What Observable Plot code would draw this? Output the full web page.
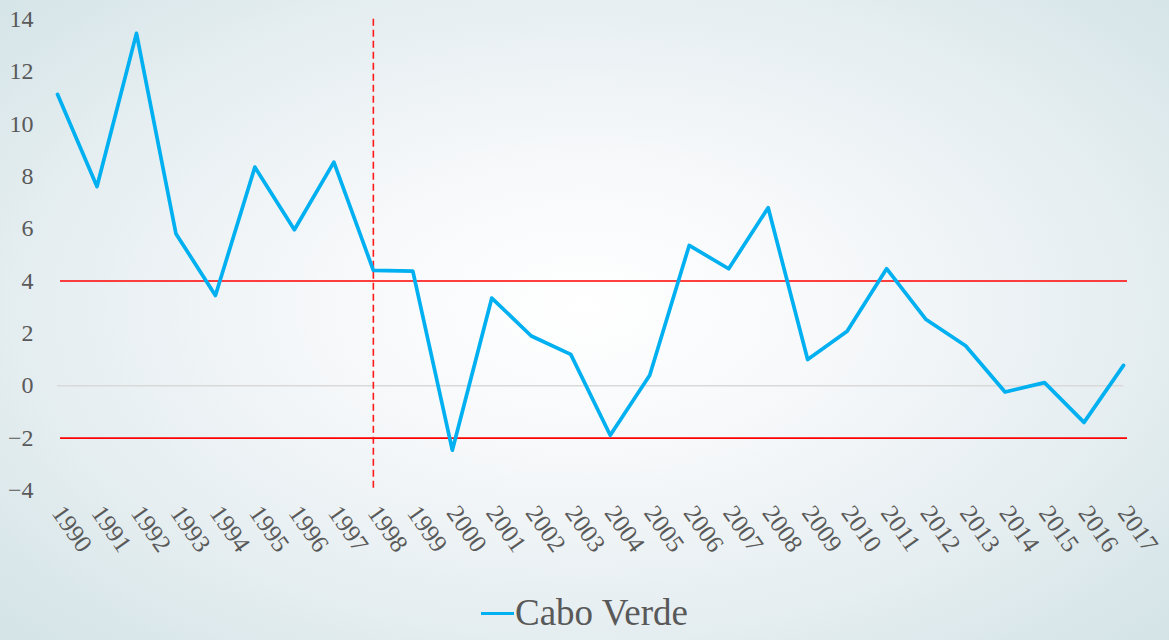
<!DOCTYPE html>
<html>
<head>
<meta charset="utf-8">
<script src="https://cdn.jsdelivr.net/npm/d3@7"></script>
<script src="https://cdn.jsdelivr.net/npm/@observablehq/plot@0.6"></script>
<style>
  html, body { margin: 0; padding: 0; }
  body {
    width: 1169px; height: 640px; overflow: hidden;
    background: radial-gradient(ellipse 75% 80% at 50% 48%, #ffffff 0%, #f6f8fa 30%, #e4edf0 65%, #cfe1e4 100%);
    font-family: "Liberation Serif", serif;
  }
  #chart svg { display: block; background: transparent; }
  #chart svg text { font-family: "Liberation Serif", serif !important; }
  #legend {
    height: 55px; display: flex; align-items: center; justify-content: center;
    color: #595959; font-size: 37px; font-family: "Liberation Serif", serif;
    padding-top: 10px;
  }
  #legend .sw { display: inline-block; width: 33px; height: 3.5px; background: #00b0f0; margin-right: 1px; position: relative; top: 1px; }
</style>
</head>
<body>
<div id="chart"></div>
<div id="legend"><span class="sw"></span><span id="legend-label"></span></div>
<script>
const years = [1990, 1991, 1992, 1993, 1994, 1995, 1996, 1997, 1998, 1999,
               2000, 2001, 2002, 2003, 2004, 2005, 2006, 2007, 2008, 2009,
               2010, 2011, 2012, 2013, 2014, 2015, 2016, 2017];
const values = [11.13, 7.61, 13.46, 5.81, 3.45, 8.35, 5.96, 8.54, 4.41, 4.38,
                -2.46, 3.35, 1.90, 1.20, -1.89, 0.40, 5.36, 4.47, 6.80, 1.00,
                2.08, 4.47, 2.53, 1.53, -0.24, 0.12, -1.40, 0.78];
const seriesName = "Cabo Verde";
const bandLimits = [4, -2];
const markerYear = [1998];
const yTicks = [-4, -2, 0, 2, 4, 6, 8, 10, 12, 14];

const data = years.map((y, i) => ({year: y, value: values[i]}));

const plot = Plot.plot({
  width: 1169,
  height: 575,
  marginTop: 18.7,
  marginBottom: 85,
  marginLeft: 57,
  marginRight: 46,
  style: {fontSize: "24px", color: "#595959", background: "transparent", overflow: "visible"},
  x: {domain: [1990, 2017]},
  y: {domain: [-4, 14]},
  marks: [
    Plot.ruleY([0], {stroke: "#d9d9d9", strokeWidth: 1.5}),
    Plot.ruleY(bandLimits, {stroke: "#ff0000", strokeWidth: 1.6, insetLeft: 3, insetRight: -4}),
    Plot.ruleX(markerYear, {stroke: "#ff1a1a", strokeWidth: 1.6, strokeDasharray: "7,4"}),
    Plot.line(data, {x: "year", y: "value", stroke: "#00b0f0", strokeWidth: 3.7, strokeLinejoin: "round", strokeLinecap: "round"}),
    Plot.axisY({ticks: yTicks, tickSize: 0, tickPadding: 24, label: null, fontSize: 24}),
    Plot.axisX({ticks: years, tickFormat: d => String(d), tickSize: 0, tickPadding: 18, tickRotate: 55, label: null, fontSize: 25})
  ]
});
document.getElementById("chart").appendChild(plot);
document.getElementById("legend-label").textContent = seriesName;
</script>
</body>
</html>
